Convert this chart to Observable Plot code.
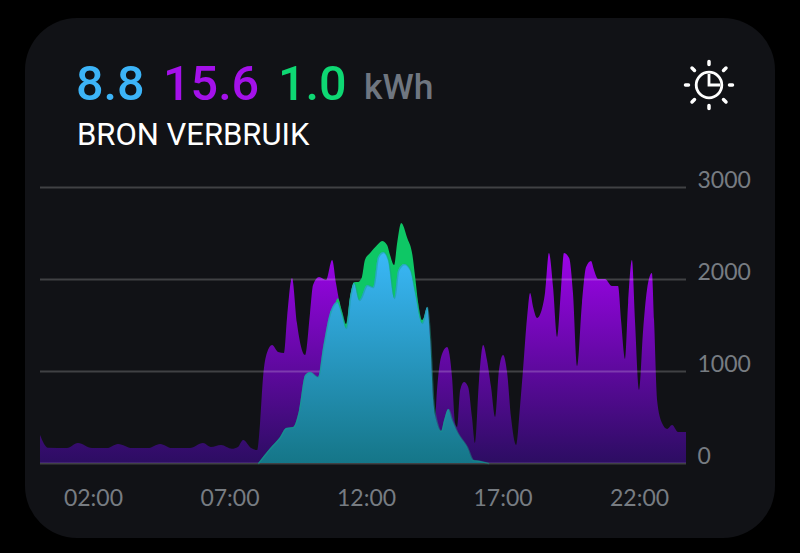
<!DOCTYPE html>
<html><head><meta charset="utf-8">
<script src="https://cdn.jsdelivr.net/npm/d3@7"></script>
<script src="https://cdn.jsdelivr.net/npm/@observablehq/plot@0.6"></script>
<style>
html,body{margin:0;padding:0;background:#000;width:800px;height:553px;overflow:hidden}
#card{position:absolute;left:25px;top:18px;width:750px;height:520px;border-radius:52px;background:#111216}
#chart{position:absolute;left:0;top:0}
#chart svg{display:block;background:transparent}
.t{position:absolute;white-space:nowrap;font-family:Roboto,sans-serif;line-height:1}
.big{font-size:48.5px;top:60px;font-weight:500}
#icon{position:absolute;left:681.5px;top:58px}
</style></head><body>
<div id="card"></div>
<div id="chart"></div>
<div class="t big" style="left:76px;color:#3cb4f8">8.8</div>
<div class="t big" style="left:163px;color:#a411ea">15.6</div>
<div class="t big" style="left:278px;color:#0ed873">1.0</div>
<div class="t" style="left:364px;top:70px;font-size:35.5px;font-weight:500;color:#6f7680">kWh</div>
<div class="t" style="left:77px;top:119px;font-size:31px;color:#fff">BRON VERBRUIK</div>
<svg id="icon" width="54" height="54" viewBox="-27 -27 54 54" fill="none" stroke="#fff" stroke-linecap="round">
  <circle r="12.8" stroke-width="2.8"/>
  <path d="M0 -11V0H11" stroke-width="2.8" stroke-linecap="butt"/>
  <g stroke-width="3.5">
    <path d="M0 -23.5V-20.5M0 20.5V23.5M-23.5 0H-20.5M20.5 0H23.5M-17 -17L-14.5 -14.5M14.5 14.5L17 17M-17 17L-14.5 14.5M14.5 -14.5L17 -17"/>
  </g>
</svg>
<script>
const gridHours = [0.06,0.35,1.05,1.45,1.96,2.51,2.92,3.43,4.02,4.46,4.89,5.55,6.03,6.32,6.69,7.09,7.31,7.50,7.79,8.01,8.12,8.23,8.37,8.56,8.78,9.00,9.11,9.29,9.47,9.77,9.95,10.06,10.28,10.54,10.76,10.90,11.01,11.12,11.27,12.00,13.00,13.80,14.05,14.24,14.35,14.46,14.53,14.60,14.75,14.97,15.15,15.26,15.34,15.45,15.59,15.74,15.88,15.99,16.14,16.29,16.43,16.58,16.73,16.87,17.02,17.17,17.31,17.50,17.64,17.75,17.90,18.01,18.12,18.27,18.41,18.56,18.70,18.85,19.00,19.14,19.25,19.44,19.58,19.73,19.91,20.06,20.24,20.35,20.50,20.75,21.01,21.23,21.34,21.49,21.60,21.74,21.85,22.00,22.15,22.29,22.47,22.55,22.66,22.84,23.03,23.21,23.43,23.72];
const gridWatts = [304,166,163,217,163,163,207,163,163,207,163,163,217,174,196,155,174,250,163,141,435,935,1195,1283,1207,1196,1587,2011,1522,1174,1630,1935,2022,1989,2207,1956,1772,1609,1467,1800,2100,1848,1500,1690,1337,685,500,793,1152,1261,935,435,391,793,880,826,500,217,902,1283,1120,826,500,1011,1174,978,500,196,609,1011,1587,1848,1696,1576,1641,1859,2283,1913,1370,1880,2283,2228,1848,1054,1739,2130,2196,2098,2000,2000,1924,1924,1554,1130,1739,2207,1554,793,1446,1880,2065,1554,685,435,370,413,337,337];

const solarHours = [8.05,8.49,8.85,9.07,9.33,9.55,9.77,9.95,10.24,10.43,10.68,10.94,11.12,11.27,11.42,11.56,11.75,12.04,12.26,12.44,12.63,12.81,13.03,13.18,13.40,13.62,13.80,14.05,14.24,14.35,14.46,14.60,14.75,14.86,15.01,15.15,15.34,15.70,15.92,16.18,16.47];
const solarWatts = [0,163,283,380,391,576,957,989,935,1261,1630,1750,1609,1467,1804,1956,1772,1935,1913,2239,2294,2207,1793,2098,2163,2098,1848,1522,1696,1337,685,435,348,467,587,467,337,174,33,22,0];

const exportHours = [10.68,10.83,10.97,11.12,11.27,11.42,11.56,11.71,11.85,11.96,12.15,12.41,12.59,12.77,12.88,13.03,13.14,13.29,13.51,13.70,13.80,13.91,14.05,14.24];
const exportWatts = [1640,1700,1790,1650,1510,1820,1965,1967,2020,2207,2283,2370,2413,2370,2261,2152,2391,2609,2446,2261,2022,1739,1554,1700];

const xTicks = [2,7,12,17,22];
const xTickLabels = ["02:00","07:00","12:00","17:00","22:00"];
const yTicks = [0,1000,2000,3000];

const toRows = (hs, vs) => hs.map((h,i)=>({h, v:vs[i]}));
const grid = toRows(gridHours, gridWatts);
const solar = toRows(solarHours, solarWatts);
const exported = toRows(exportHours, exportWatts);

function gradients(){
  const s = d3.create("svg:defs");
  const def = (id, a, b) => {
    const g = s.append("linearGradient").attr("id",id).attr("x1",0).attr("y1",0).attr("x2",0).attr("y2",1);
    g.append("stop").attr("offset",0).attr("stop-color",a);
    g.append("stop").attr("offset",1).attr("stop-color",b);
  };
  def("gPurple","#9c04e8","#2c0d62");
  def("gBlue","#3ab8f8","#157688");
  return s.node();
}

const opts = {x:"h", y:"v", curve:"monotone-x"};
const chart = Plot.plot({
  width:800, height:553,
  marginLeft:40, marginRight:114, marginTop:187, marginBottom:90,
  style:{background:"transparent", fontFamily:"Lato, sans-serif", fontSize:"23px"},
  x:{domain:[0.06,23.72], label:null},
  y:{domain:[0,3000], label:null},
  marks:[
    gradients,
    Plot.areaY(grid, {...opts, fill:"url(#gPurple)"}),
    Plot.ruleY(yTicks, {stroke:"#fff", strokeOpacity:0.2, strokeWidth:2}),
    Plot.areaY(exported, {...opts, fill:"#0ec765"}),
    Plot.areaY(solar, {...opts, fill:"url(#gBlue)"}),
    Plot.lineY(solar, {...opts, stroke:"#14a08a", strokeOpacity:0.45, strokeWidth:1.5}),
    Plot.axisX(xTicks, {anchor:"bottom", tickSize:0, tickPadding:26, tickFormat:(d,i)=>xTickLabels[i], fill:"#777c82", label:null, fontSize:23}),
    Plot.axisY(yTicks, {anchor:"right", tickSize:0, tickPadding:11, dy:-7, fill:"#777c82", label:null, tickFormat:d=>String(d), fontSize:23, textAnchor:"start"})
  ]
});
document.getElementById("chart").appendChild(chart);
</script>
</body></html>
